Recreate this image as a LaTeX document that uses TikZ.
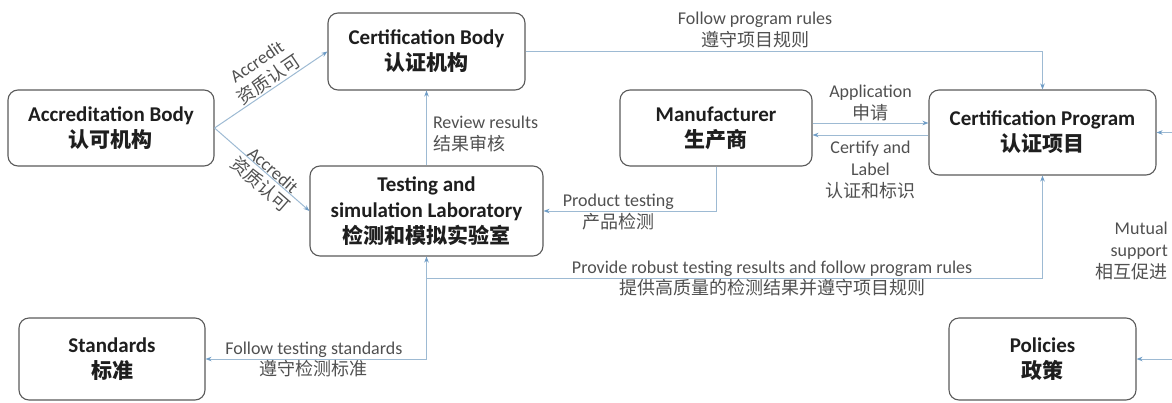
\documentclass[tikz,border=0pt]{standalone}
\usepackage{fontspec}
\setmainfont{Carlito}
\newfontfamily\zh{Noto Sans CJK SC}
\usetikzlibrary{arrows.meta,calc}
\definecolor{linec}{HTML}{9DBAD3}
\definecolor{tipc}{HTML}{6E9CC6}
\definecolor{boxc}{HTML}{5A5A5A}
\definecolor{labc}{HTML}{505050}
\definecolor{titc}{HTML}{1E1E1E}
\begin{document}
\begin{tikzpicture}[x=1pt,y=-1pt,
  box/.style={draw=boxc, line width=1.1pt, rounded corners=10pt, fill=white, inner sep=0pt, align=center,
    font=\fontsize{21}{26}\selectfont\bfseries, text=titc},
  conn/.style={draw=linec, line width=1pt, -{Stealth[length=6pt,width=4.5pt,color=tipc]}},
  lab/.style={font=\fontsize{18}{22}\selectfont, text=labc, align=center, inner sep=1pt},
]
\useasboundingbox (0,0) rectangle (1172,402);

% boxes
\node[box, minimum width=206pt, minimum height=76pt] (ab) at (111,128) {Accreditation Body\\{\zh 认可机构}};
\node[box, minimum width=197pt, minimum height=77pt] (cb) at (426.5,51.5) {Certification Body\\{\zh 认证机构}};
\node[box, minimum width=233pt, minimum height=90pt] (tl) at (426.5,211) {Testing and\\simulation Laboratory\\{\zh 检测和模拟实验室}};
\node[box, minimum width=192pt, minimum height=76pt] (mf) at (716,128) {Manufacturer\\{\zh 生产商}};
\node[box, minimum width=227pt, minimum height=85pt] (cp) at (1042.5,132.5) {Certification Program\\{\zh 认证项目}};
\node[box, minimum width=186pt, minimum height=82pt] (st) at (112,359) {Standards\\{\zh 标准}};
\node[box, minimum width=187pt, minimum height=82pt] (po) at (1042.5,359) {Policies\\{\zh 政策}};

% accreditation
\draw[conn] (ab.east) -- node[lab, sloped, above, pos=.53, inner sep=1pt] {Accredit\\{\zh 资质认可}} (cb.west);
\draw[conn] (ab.east) -- node[lab, sloped, above, pos=.57, inner sep=0pt] {Accredit}
                         node[lab, sloped, below, pos=.57, inner sep=3pt] {\zh 资质认可} (tl.west);

% review results
\draw[conn] (tl.north) -- node[lab, right, align=left, pos=.42, inner sep=6pt] {Review results\\{\zh 结果审核}} (cb.north |- cb.south);

% follow program rules
\draw[conn] (cb.east) -- node[lab, above, pos=.444, inner sep=3pt] {Follow program rules\\{\zh 遵守项目规则}} (cb.east -| cp.north) -- (cp.north);

% application / certify
\draw[conn] (mf.east |- 0,123) -- node[lab, above, inner sep=2pt] {Application\\{\zh 申请}} (cp.west |- 0,123);
\draw[conn] (cp.west |- 0,135) -- node[lab, below, inner sep=5pt] {Certify and\\Label\\{\zh 认证和标识}} (mf.east |- 0,135);

% product testing
\draw[conn] (mf.south) -- (mf.south |- tl.east) -- node[lab, above, pos=.566, inner sep=1pt] {Product testing}
   node[lab, below, pos=.566, inner sep=2pt] {\zh 产品检测} (tl.east);

% bottom bus
\coordinate (jl) at (426.5,278);
\draw[conn] (jl) -- (tl.south);
\draw[conn] (jl) -- node[lab, above, pos=.561, inner sep=1pt] {Provide robust testing results and follow program rules}
   node[lab, below, pos=.561, inner sep=1pt] {\zh 提供高质量的检测结果并遵守项目规则} (jl -| cp.south) -- (cp.south);
\draw[conn] (jl) -- (jl |- st.east) -- node[lab, above, pos=.51, inner sep=1pt] {Follow testing standards}
   node[lab, below, pos=.51, inner sep=1pt] {\zh 遵守检测标准} (st.east);

% right side (cropped)
\coordinate (r1) at (1172,132.5);
\coordinate (r2) at (1172,359);
\draw[conn] (r1) -- (cp.east);
\draw[conn] (r2) -- (po.east);
\node[lab, anchor=east, align=right] (ms) at (1169,251) {Mutual\\support\\{\zh 相互促进}};
\end{tikzpicture}
\end{document}
